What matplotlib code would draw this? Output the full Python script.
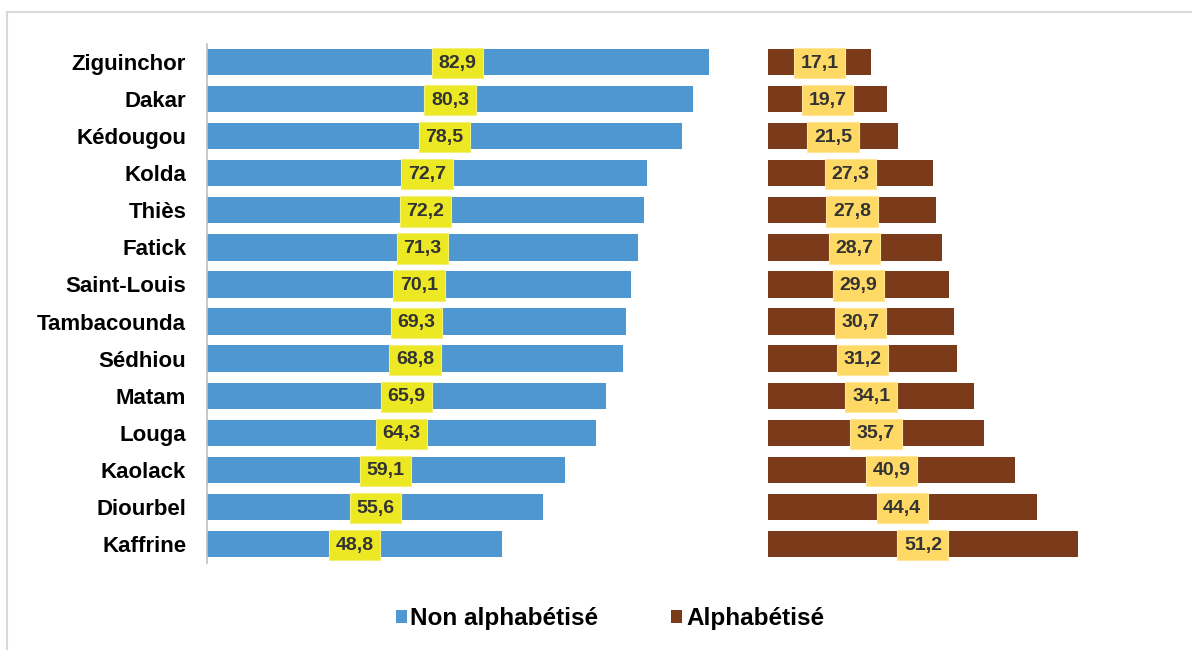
import matplotlib
matplotlib.use('Agg')
import matplotlib.pyplot as plt
from matplotlib.patches import Patch, Rectangle

# regions, top to bottom
regions = ['Ziguinchor', 'Dakar', 'Kédougou', 'Kolda', 'Thiès', 'Fatick',
           'Saint-Louis', 'Tambacounda', 'Sédhiou', 'Matam', 'Louga',
           'Kaolack', 'Diourbel', 'Kaffrine']
non_alpha = [82.9, 80.3, 78.5, 72.7, 72.2, 71.3, 70.1, 69.3, 68.8, 65.9,
             64.3, 59.1, 55.6, 48.8]
alpha = [17.1, 19.7, 21.5, 27.3, 27.8, 28.7, 29.9, 30.7, 31.2, 34.1,
         35.7, 40.9, 44.4, 51.2]
legend_labels = ['Non alphabétisé', 'Alphabétisé']

blue = '#4F97D1'
brown = '#7B3A19'

plt.rcParams['font.family'] = ['Liberation Sans', 'DejaVu Sans']

W, H = 1192, 650
fig = plt.figure(figsize=(W / 100, H / 100), dpi=100)

# light frame around the chart area
fig.patches.append(Rectangle((7 / W, -0.1), 1.2, 1 - 12 / H + 0.1,
                             transform=fig.transFigure, fill=False,
                             edgecolor='#D9D9D9', linewidth=1.5))

bottom = 1 - 562.5 / H
height = 519 / H
px = 6.05  # pixels per percent
ax1 = fig.add_axes([207 / W, bottom, 90 * px / W, height])
ax2 = fig.add_axes([768 / W, bottom, 70 * px / W, height])

y = list(range(len(regions)))

ax1.barh(y, non_alpha, height=0.71, color=blue)
ax2.barh(y, alpha, height=0.71, color=brown)

for i, v in enumerate(non_alpha):
    ax1.text(v / 2, i + 0.03, f'{v:.1f}'.replace('.', ','), ha='center', va='center',
             fontsize=14, fontweight='bold', color='#333333',
             bbox=dict(boxstyle='square,pad=0.34', facecolor='#ECE823',
                       edgecolor='#F3F07A', linewidth=0.8))
for i, v in enumerate(alpha):
    ax2.text(v / 2, i + 0.03, f'{v:.1f}'.replace('.', ','), ha='center', va='center',
             fontsize=14, fontweight='bold', color='#333333',
             bbox=dict(boxstyle='square,pad=0.34', facecolor='#FFD966',
                       edgecolor='#FFE699', linewidth=0.8))

for ax in (ax1, ax2):
    ax.set_ylim(len(regions) - 0.5, -0.5)
    ax.set_xticks([])
    for s in ax.spines.values():
        s.set_visible(False)
ax1.set_xlim(0, 90)
ax2.set_xlim(0, 70)
ax2.set_yticks([])

ax1.spines['left'].set_visible(True)
ax1.spines['left'].set_color('#BFBFBF')
ax1.spines['left'].set_linewidth(1.2)
ax1.set_yticks(y)
ax1.set_yticklabels(regions, fontsize=16, fontweight='bold')
ax1.tick_params(axis='y', length=0, pad=15)

handles = [Patch(facecolor=blue), Patch(facecolor=brown)]
fig.legend(handles, legend_labels, loc='center', bbox_to_anchor=(610 / W, 1 - 619 / H),
           ncol=2, frameon=False, handlelength=0.45, handleheight=0.45,
           handletextpad=0.15, columnspacing=3.0,
           prop=dict(size=17.5, weight='bold'))

fig.savefig('out.png', dpi=100)
